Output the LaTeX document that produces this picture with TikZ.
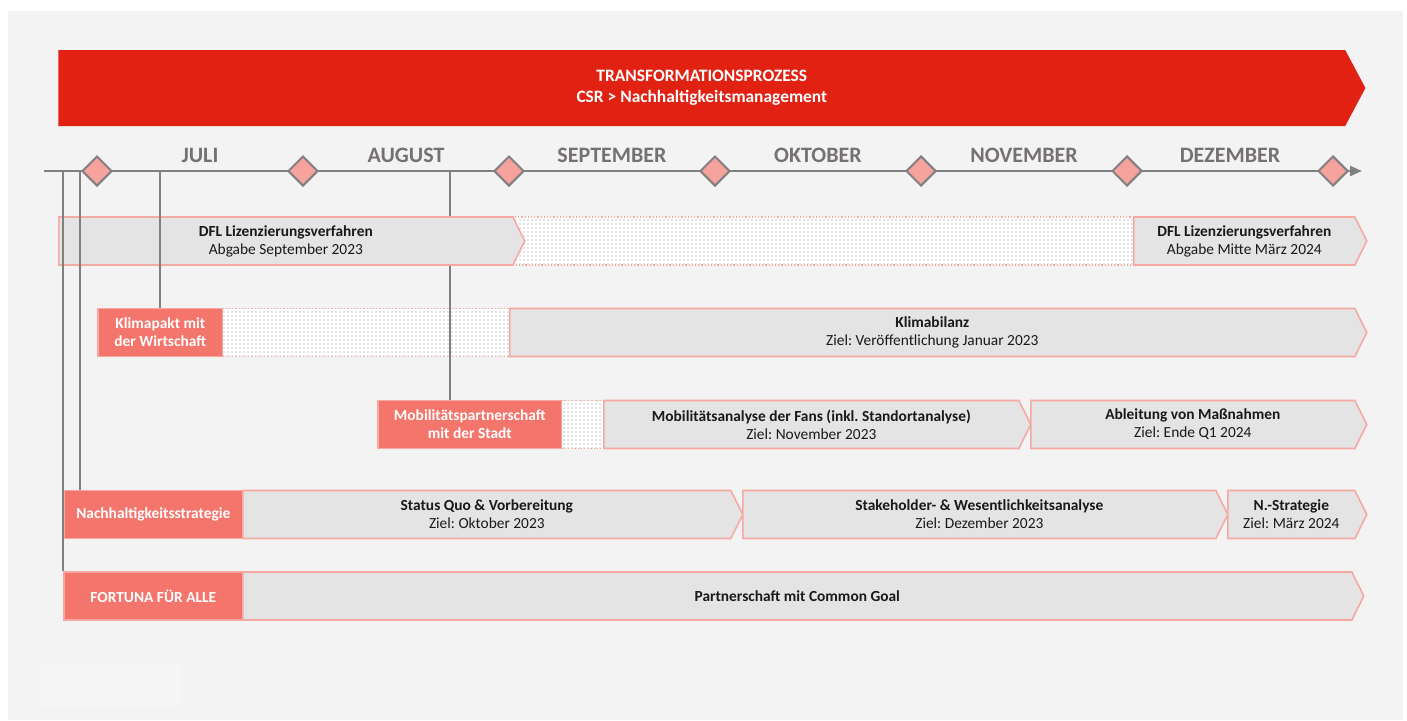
\documentclass[tikz,border=0pt]{standalone}
\usepackage{fontspec}
\setmainfont{Carlito}
\usepackage{tikz}
\usetikzlibrary{shapes.symbols,shapes.geometric,patterns.meta,arrows.meta}
\frenchspacing
\definecolor{fredbanner}{RGB}{225,34,19}
\definecolor{fsalmon}{RGB}{244,117,108}
\definecolor{fborder}{RGB}{246,168,162}
\definecolor{fgreybox}{RGB}{228,228,228}
\definecolor{fpanel}{RGB}{243,243,243}
\definecolor{fmonth}{RGB}{118,113,113}
\definecolor{fline}{RGB}{128,128,128}
\definecolor{fdiamond}{RGB}{246,163,157}
\pgfdeclarepattern{name=fdots, type=colored, bottom left={\pgfpoint{-.5pt}{-.5pt}}, top right={\pgfpoint{1.5pt}{1.5pt}}, tile size={\pgfpoint{2pt}{2pt}}, code={\pgfsetfillcolor{black!45}\pgfpathcircle{\pgfpointorigin}{0.28pt}\pgfusepath{fill}}}
\tikzstyle{phase} = [signal, signal to=east, signal from=nowhere, signal pointer angle=127, minimum height=24pt, inner sep=0pt, anchor=west, draw=fborder, fill=fgreybox, line width=0.8pt, align=center, text=black!90, font=\fontsize{7.7}{9}\selectfont]
\tikzstyle{initiative} = [rectangle, minimum height=24pt, inner sep=0pt, anchor=west, draw=fborder, fill=fsalmon, line width=0.8pt, align=center, text=white, font=\fontsize{7.7}{9}\selectfont\bfseries]
\tikzstyle{waiting} = [rectangle, minimum height=24pt, inner sep=0pt, anchor=west, draw=fborder, densely dotted, line width=0.6pt, preaction={fill=white}, pattern=fdots]
\tikzstyle{milestone} = [diamond, minimum width=15pt, minimum height=15pt, inner sep=0pt, draw=fline, fill=fdiamond, line width=1pt]
\tikzstyle{month} = [text=fmonth, font=\fontsize{11}{12}\selectfont\bfseries]
\tikzstyle{link} = [draw=fline, line width=0.75pt]
\tikzset{span/.style={minimum width=#1*0.5pt}}

\begin{document}
\begin{tikzpicture}[x=0.5pt, y=-0.5pt]
\useasboundingbox (0,0) rectangle (1407,720);
\fill[white] (0,0) rectangle (1407,720);
\fill[fpanel] (8,11) rectangle (1403,720);
\fill[black!4] (39,665) rectangle (182,706);

% Banner
\node (banner) [signal, signal to=east, signal from=nowhere, signal pointer angle=124, span=1307, minimum height=38pt, inner sep=0pt, anchor=west, fill=fredbanner, text=white, align=center, font=\fontsize{8.7}{10.5}\selectfont\bfseries] at (58,88) {TRANSFORMATIONSPROZESS\\CSR > Nachhaltigkeitsmanagement};

% Timeline
\coordinate (tlstart) at (44,171);
\coordinate (tlend) at (1362,171);
\draw[fline, line width=1pt, -{Triangle[length=6pt,width=5pt]}] (tlstart) -- (tlend);
\foreach \i in {0,...,6}
  \node (ms\i) [milestone] at (97+206*\i,171) {};
\foreach \m [count=\i from 0] in {JULI,AUGUST,SEPTEMBER,OKTOBER,NOVEMBER,DEZEMBER}
  \node (mon\i) [month] at (200+206*\i,155) {\m};

% Start lines
\coordinate (lfortuna) at (63,171);
\coordinate (lstrategie) at (80,171);
\coordinate (lklima) at (160,171);
\coordinate (lmobil) at (450,171);

% DFL
\node (dflwait) [waiting, span=621] at (512,241) {};
\node (dflone) [phase, span=466] at (58,241) {\textbf{DFL Lizenzierungsverfahren}\\Abgabe September 2023};
\node (dfltwo) [phase, span=233] at (1133,241) {\textbf{DFL Lizenzierungsverfahren}\\Abgabe Mitte März 2024};

% Klimapakt
\node (klimapakt) [initiative, span=125] at (97,332.5) {Klimapakt mit\\der Wirtschaft};
\node (klimawait) [waiting, span=287] at (222,332.5) {};
\node (klimabilanz) [phase, span=857] at (509,332.5) {\textbf{Klimabilanz}\\Ziel: Veröffentlichung Januar 2023};

% Mobilitaet
\node (mobil) [initiative, span=184] at (377,424.5) {Mobilitätspartnerschaft\\mit der Stadt};
\node (mobilwait) [waiting, span=42] at (561,424.5) {};
\node (mobilanalyse) [phase, span=427] at (603,424.5) {\textbf{Mobilitätsanalyse der Fans (inkl. Standortanalyse)}\\Ziel: November 2023};
\node (massnahmen) [phase, span=336] at (1030,424.5) {\textbf{Ableitung von Maßnahmen}\\Ziel: Ende Q1 2024};

% Nachhaltigkeitsstrategie
\node (strategie) [initiative, span=179] at (63,514.5) {Nachhaltigkeitsstrategie};
\node (statusquo) [phase, span=500] at (242,514.5) {\textbf{Status Quo \& Vorbereitung}\\Ziel: Oktober 2023};
\node (stakeholder) [phase, span=485] at (742,514.5) {\textbf{Stakeholder- \& Wesentlichkeitsanalyse}\\Ziel: Dezember 2023};
\node (nstrategie) [phase, span=139] at (1227,514.5) {\textbf{N.-Strategie}\\Ziel: März 2024};

% Fortuna
\node (fortuna) [initiative, span=179] at (63,596) {FORTUNA FÜR ALLE};
\node (commongoal) [phase, span=1121] at (242,596) {\textbf{Partnerschaft mit Common Goal}};

% Links
\draw[link] (lfortuna) -- (lfortuna |- fortuna.north);
\draw[link] (lstrategie) -- (lstrategie |- strategie.north);
\draw[link] (lklima) -- (lklima |- klimapakt.north);
\draw[link] (lmobil) -- (lmobil |- dflone.north);
\draw[link] (lmobil |- dflone.south) -- (lmobil |- mobil.north);
\end{tikzpicture}
\end{document}
